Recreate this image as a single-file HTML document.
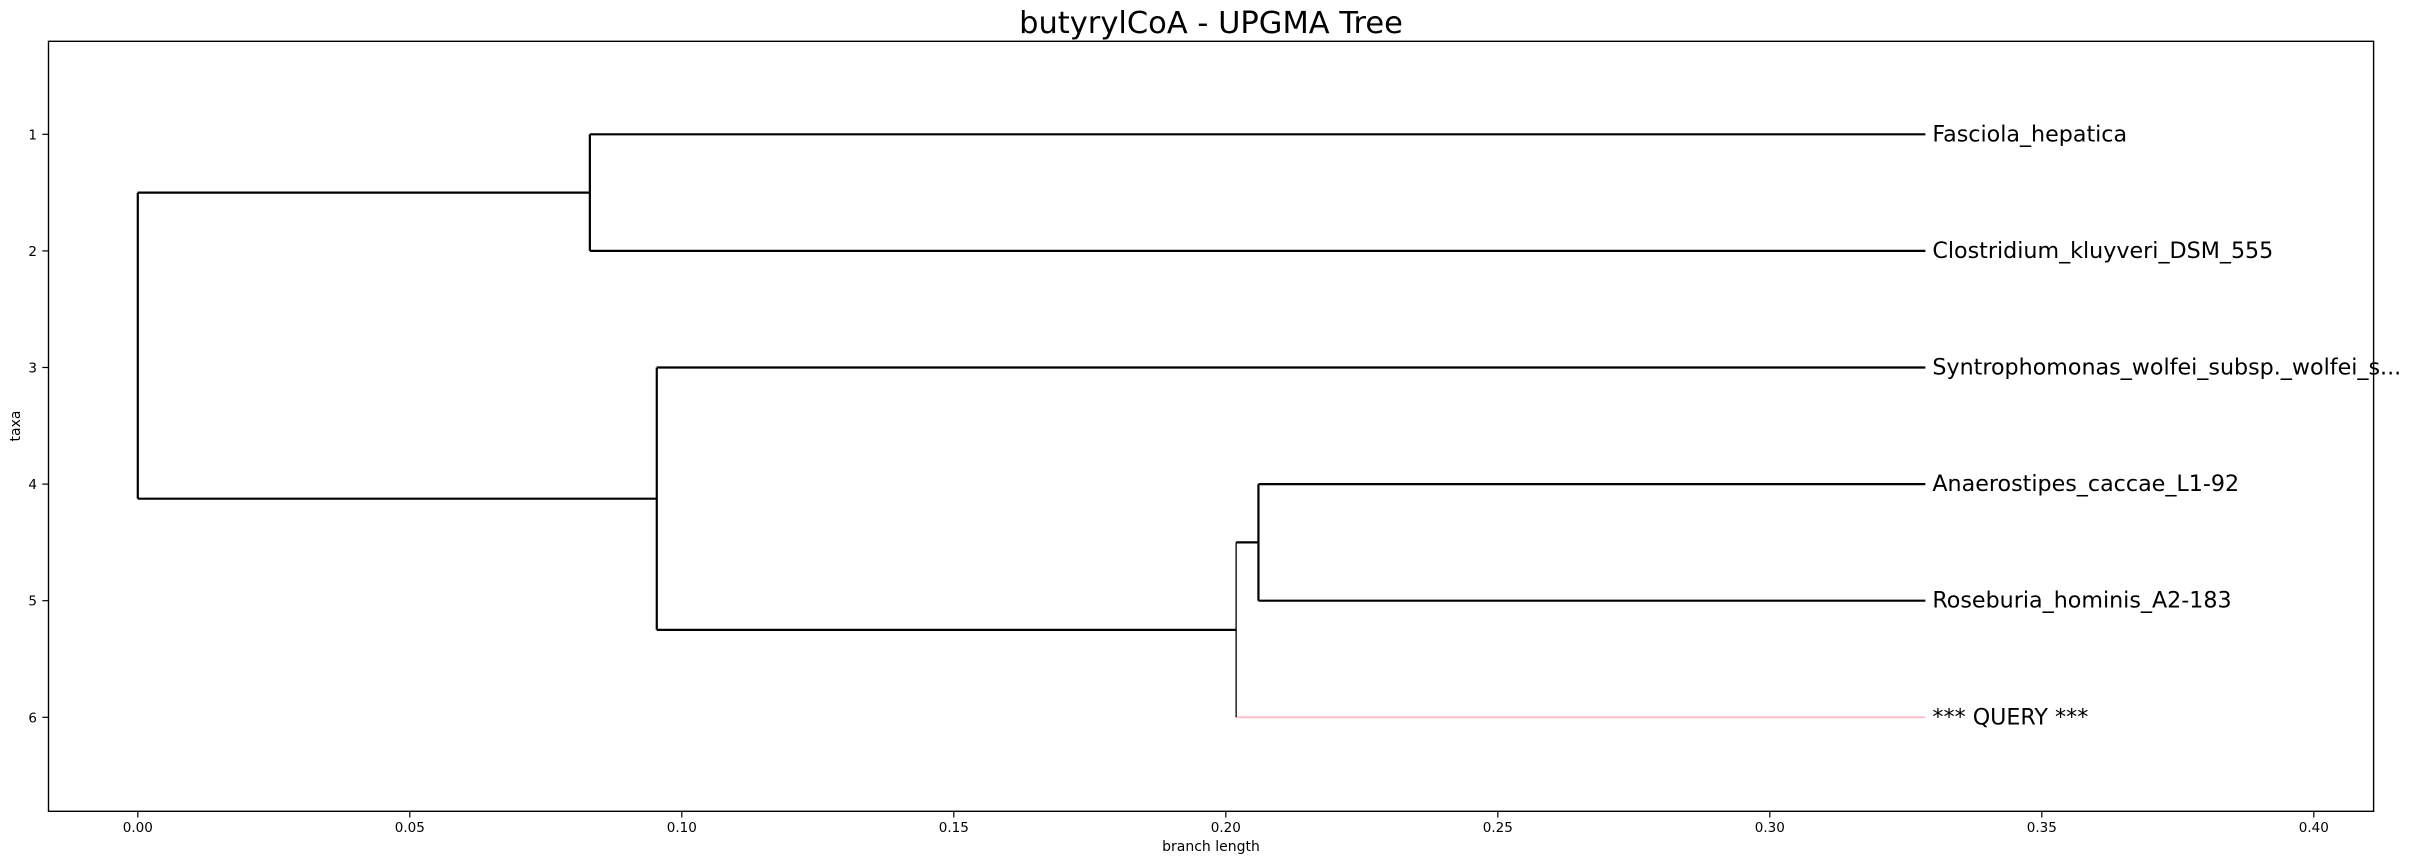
<!DOCTYPE html>
<html><head><meta charset="utf-8"><style>
html,body{margin:0;padding:0;background:#fff;}
svg{display:block;font-family:"DejaVu Sans","Liberation Sans",sans-serif;}
</style></head><body>
<svg id="chart" width="2413" height="864" viewBox="0 0 2413 864" xmlns="http://www.w3.org/2000/svg">
<rect x="0" y="0" width="2413" height="864" fill="#fff"/>
<text x="1211" y="33" font-size="30.5" text-anchor="middle" fill="#000">butyrylCoA - UPGMA Tree</text>
<text x="1211" y="851" font-size="14" text-anchor="middle" fill="#000">branch length</text>
<text x="0" y="0" font-size="14" text-anchor="middle" fill="#000" transform="translate(20,426) rotate(-90)">taxa</text>
<g id="ticks"></g>
<g id="tree"></g>
<rect x="48.5" y="41.3" width="2325.1" height="770" fill="none" stroke="#000" stroke-width="1.4"/>
</svg>
<script>
// data
const leafNames = ["Fasciola_hepatica","Clostridium_kluyveri_DSM_555","Syntrophomonas_wolfei_subsp._wolfei_s...","Anaerostipes_caccae_L1-92","Roseburia_hominis_A2-183","*** QUERY ***"];
const leafRows = [1,2,3,4,5,6];
const leafDepth = [0.3286,0.3286,0.3286,0.3286,0.3286,0.3286];
const leafColors = ["#000","#000","#000","#000","#000","pink"];
// internal nodes: depth and children (index: leaves 0-5, internal 6+)
const nodeDepth = [0.0831,0.2060,0.2019,0.0954,0.0];
const nodeChildren = [[0,1],[3,4],[7,5],[2,8],[6,9]];
const xTicks = [0.00,0.05,0.10,0.15,0.20,0.25,0.30,0.35,0.40];
const yTicks = [1,2,3,4,5,6];

const X0=137.8, XS=5440, Y0=134.3, YS=116.6;
const sx=v=>X0+v*XS, sy=v=>Y0+(v-1)*YS;
const NS="http://www.w3.org/2000/svg";
const tree=document.getElementById('tree'), tk=document.getElementById('ticks');
function mk(tag,attrs,parent){const e=document.createElementNS(NS,tag);for(const k in attrs)e.setAttribute(k,attrs[k]);parent.appendChild(e);return e;}

xTicks.forEach(t=>{
  const l=mk('line',{x1:sx(t),x2:sx(t),y1:811.3,y2:817.5,stroke:'#000','stroke-width':1.2},tk);
  
  
  const tx=mk('text',{x:sx(t),y:832,'font-size':13.5,'text-anchor':'middle'},tk);
  tx.textContent=t.toFixed(2);
  
  
});
yTicks.forEach(t=>{
  const l=mk('line',{x1:42.3,x2:48.5,y1:sy(t),y2:sy(t),stroke:'#000','stroke-width':1.2},tk);
  
  
  const tx=mk('text',{x:37,y:sy(t)+5,'font-size':13.5,'text-anchor':'end'},tk);
  tx.textContent=String(t);
  
  
});

const pos=[];
leafRows.forEach((r,i)=>pos[i]={x:leafDepth[i],y:r});
nodeChildren.forEach((ch,j)=>{
  const ys=ch.map(c=>pos[c].y);
  pos[6+j]={x:nodeDepth[j],y:(ys[0]+ys[1])/2};
});
// horizontal branches
for(let i=0;i<pos.length;i++){
  let parent=-1;
  nodeChildren.forEach((ch,j)=>{if(ch.includes(i))parent=6+j;});
  if(parent<0)continue;
  const isLeaf=i<6;
  const col=isLeaf?leafColors[i]:'#000';
  const l=mk('line',{x1:sx(pos[parent].x),x2:sx(pos[i].x),y1:sy(pos[i].y),y2:sy(pos[i].y),stroke:col,'stroke-width':col==='pink'?2:2.2},tree);
  
  
}
// vertical connectors
nodeChildren.forEach((ch,j)=>{
  const n=pos[6+j];
  const ys=ch.map(c=>pos[c].y);
  const thin = ch.includes(5);
  const l=mk('line',{x1:sx(n.x),x2:sx(n.x),y1:sy(ys[0]),y2:sy(ys[1]),stroke:'#000','stroke-width':thin?1.3:2.2},tree);
  
  
});
// labels
leafNames.forEach((nm,i)=>{
  const t=mk('text',{x:sx(leafDepth[i])+7,y:sy(leafRows[i])+7,'font-size':22.2},tree);
  t.textContent=nm;
  
  
});
</script>
</body></html>
